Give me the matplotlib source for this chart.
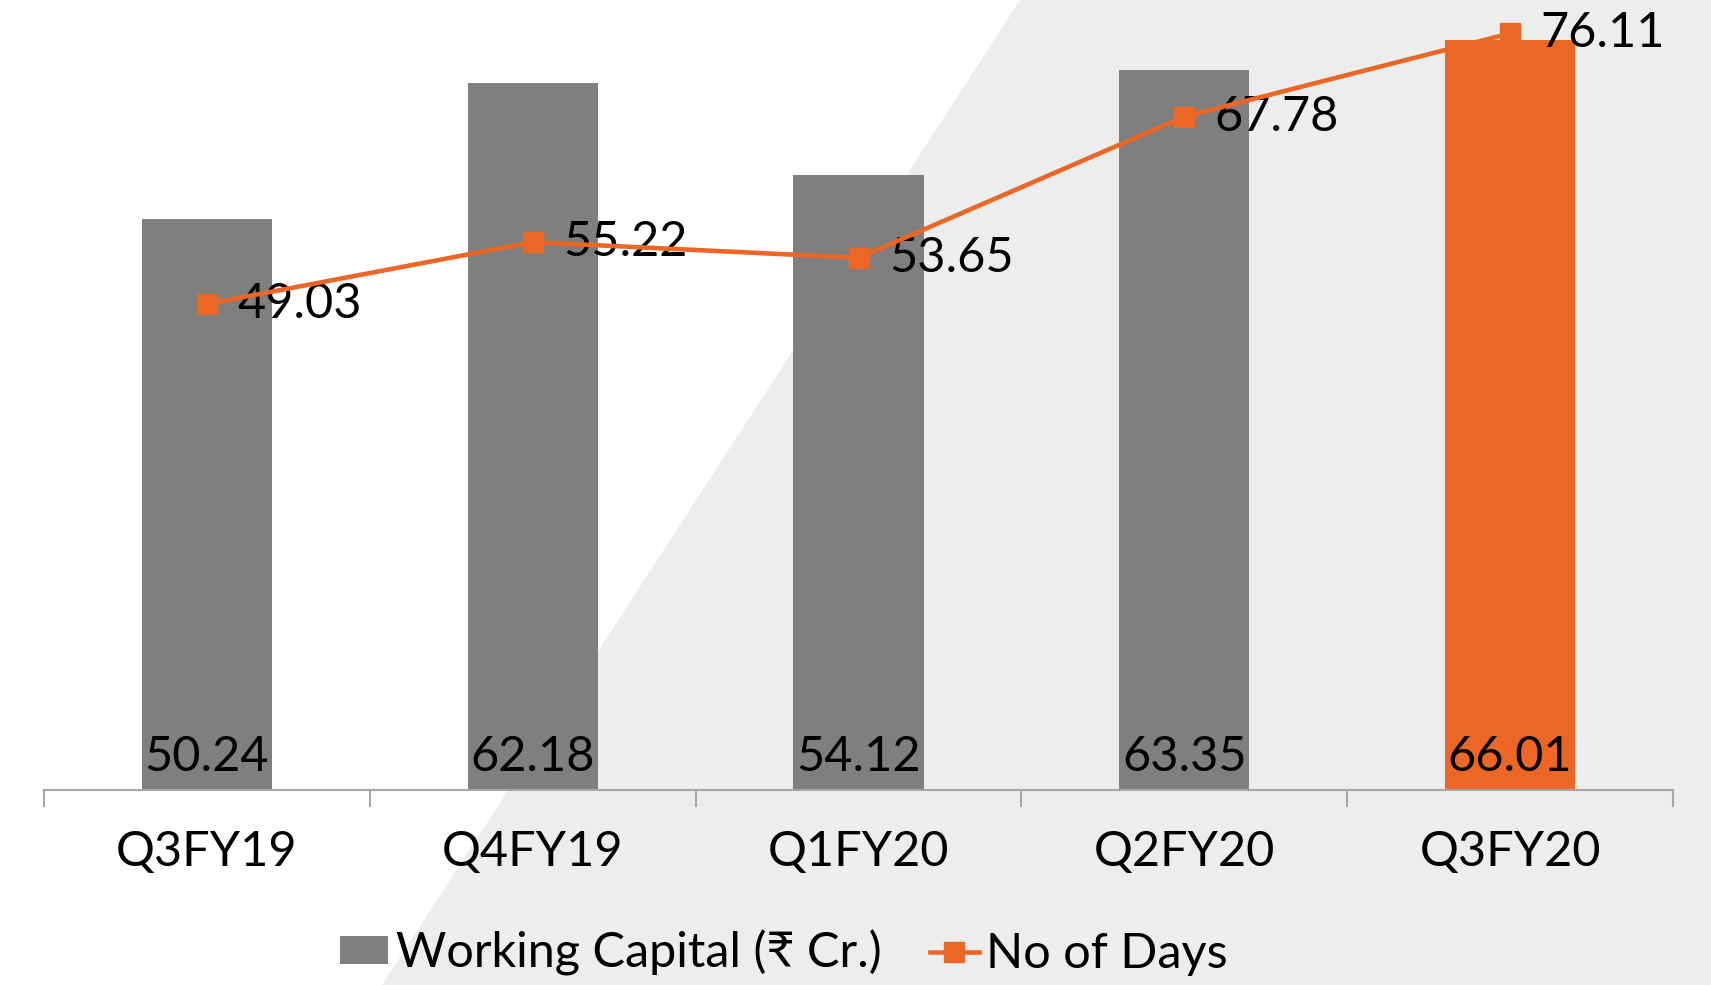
import matplotlib
matplotlib.use('Agg')
import matplotlib.pyplot as plt
from matplotlib.patches import Polygon, Patch
from matplotlib.lines import Line2D

plt.rcParams['font.family'] = ['Lato', 'DejaVu Sans']

quarters = ['Q3FY19', 'Q4FY19', 'Q1FY20', 'Q2FY20', 'Q3FY20']
working_capital = [50.24, 62.18, 54.12, 63.35, 66.01]
no_of_days = [49.03, 55.22, 53.65, 67.78, 76.11]

grey = '#7F7F7F'
orange = '#EC6625'
fs = 35

fig = plt.figure(figsize=(17.11, 9.85), dpi=100)

# light grey diagonal band in the background
bg = Polygon([(1020 / 1711, 1.0), (1.0, 1.0), (1.0, 0.0), (382 / 1711, 0.0)],
             closed=True, transform=fig.transFigure, facecolor='#EDEDED',
             edgecolor='none', zorder=-1)
fig.add_artist(bg)

ax = fig.add_axes([44 / 1711, 1 - 790 / 985, (1673 - 44) / 1711, 790 / 985])
ax.set_facecolor('none')

x = list(range(len(quarters)))
colors = [grey] * 4 + [orange]
ax.bar(x, working_capital, width=0.4, color=colors, zorder=2)
ax.set_xlim(-0.5, len(quarters) - 0.5)
ax.set_ylim(0, 69.5)

for xi, v in zip(x, working_capital):
    ax.annotate(f'{v:.2f}', xy=(xi, 0), xytext=(0, 8), textcoords='offset points',
                ha='center', va='bottom', fontsize=fs, color='black', zorder=3)

for s in ['top', 'right', 'left']:
    ax.spines[s].set_visible(False)
ax.spines['bottom'].set_color('#A6A6A6')
ax.spines['bottom'].set_linewidth(1.5)
ax.set_yticks([])
ax.set_xticks([i - 0.5 for i in range(len(quarters) + 1)])
ax.set_xticklabels([])
ax.tick_params(axis='x', which='major', length=12, width=1.5, color='#A6A6A6')
ax.set_xticks(x, minor=True)
ax.set_xticklabels(quarters, minor=True, fontsize=fs)
ax.tick_params(axis='x', which='minor', length=0, pad=29)

# secondary axis for the number of days
ax2 = ax.twinx()
ax2.plot(x, no_of_days, color=orange, lw=3.3, marker='s', markersize=14.5, zorder=4)
ax2.set_ylim(0.4, 79.45)
ax2.set_yticks([])
for s in ax2.spines.values():
    s.set_visible(False)
for xi, v in zip(x, no_of_days):
    ax2.annotate(f'{v:.2f}', xy=(xi, v), xytext=(22, 0), textcoords='offset points',
                 ha='left', va='center', fontsize=fs, color='black')

handles = [Patch(facecolor=grey, edgecolor='none'),
           Line2D([0], [0], color=orange, lw=3.3, marker='s', markersize=14.5)]
fig.legend(handles, ['Working Capital (₹ Cr.)', 'No of Days'], loc='center',
           bbox_to_anchor=(0.458, 1 - 953 / 985), ncol=2, frameon=False, fontsize=fs,
           handlelength=1.0, handleheight=0.5, handletextpad=0.15, columnspacing=1.0)

fig.savefig('out.png', dpi=100)
